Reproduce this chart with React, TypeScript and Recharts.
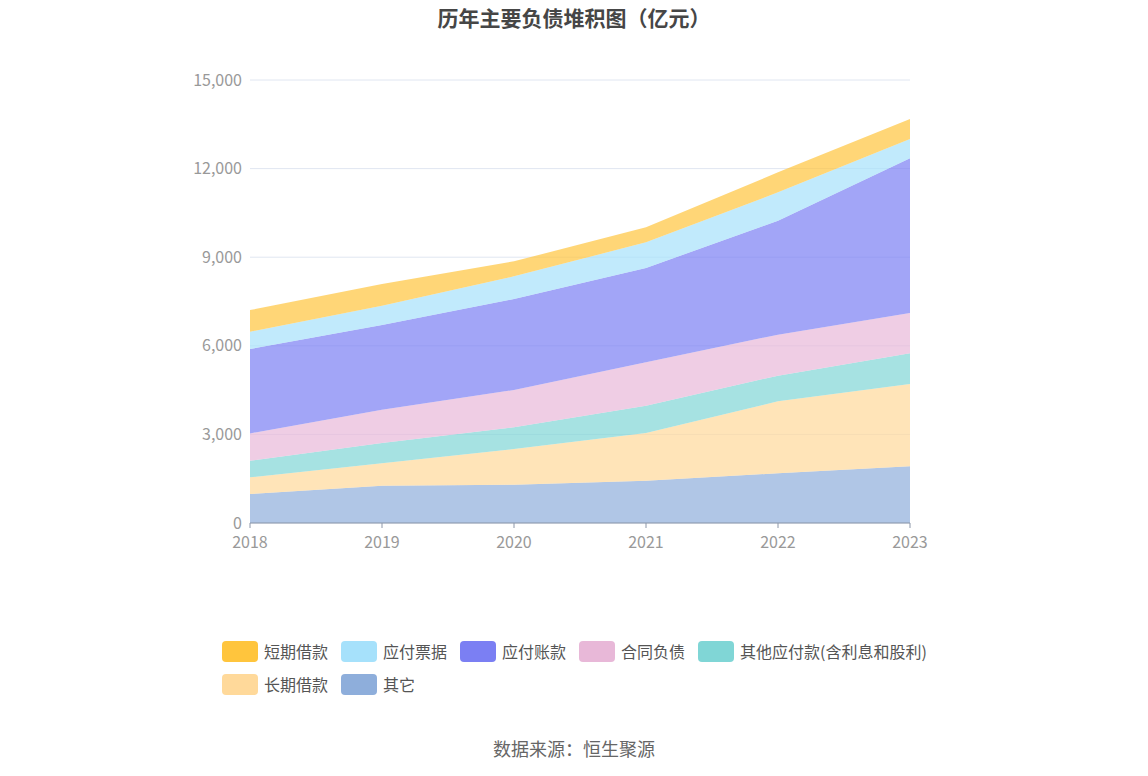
import React from 'react';
import { AreaChart, Area, XAxis, YAxis, CartesianGrid } from 'recharts';

const years = ['2018', '2019', '2020', '2021', '2022', '2023'];
// values in 亿元
const qita = [980, 1264, 1298, 1433, 1682, 1919];
const changqiJiekuan = [565, 756, 1208, 1614, 2438, 2788];
const qitaYingfu = [563, 689, 733, 926, 869, 1038];
const hetongFuzhai = [926, 1128, 1264, 1467, 1388, 1366];
const yingfuZhangkuan = [2856, 2867, 3082, 3194, 3860, 5237];
const yingfuPiaoju = [586, 655, 767, 869, 959, 655];
const duanqiJiekuan = [734, 734, 508, 508, 678, 677];
const yTicks = [0, 3000, 6000, 9000, 12000, 15000];

const data = years.map((year, i) => ({
  year,
  qita: qita[i],
  changqi: changqiJiekuan[i],
  qitaYingfu: qitaYingfu[i],
  hetong: hetongFuzhai[i],
  zhangkuan: yingfuZhangkuan[i],
  piaoju: yingfuPiaoju[i],
  duanqi: duanqiJiekuan[i],
}));

// bottom to top
const series = [
  { key: 'qita', name: '其它', color: '#8eaedb' },
  { key: 'changqi', name: '长期借款', color: '#ffd99a' },
  { key: 'qitaYingfu', name: '其他应付款(含利息和股利)', color: '#80d6d6' },
  { key: 'hetong', name: '合同负债', color: '#e8b8d8' },
  { key: 'zhangkuan', name: '应付账款', color: '#7b7ff3' },
  { key: 'piaoju', name: '应付票据', color: '#a6e1fb' },
  { key: 'duanqi', name: '短期借款', color: '#ffc53d' },
];

const legendOrder = ['duanqi', 'piaoju', 'zhangkuan', 'hetong', 'qitaYingfu', 'changqi', 'qita'];

const font = '"Noto Sans CJK SC", "Noto Sans", sans-serif';

export default function App() {
  const legendItems = legendOrder.map((k) => series.find((s) => s.key === k)!);
  return (
    <div style={{ position: 'relative', width: 1148, height: 776, fontFamily: font, background: '#fff', margin: -8 }}>
      <div
        style={{
          position: 'absolute',
          top: 2,
          left: 0,
          width: 1148,
          textAlign: 'center',
          fontSize: 21,
          fontWeight: 'bold',
          color: '#464646',
        }}
      >
        历年主要负债堆积图（亿元）
      </div>
      <div style={{ position: 'absolute', top: 0, left: 0 }}>
        <AreaChart width={1148} height={560} data={data} margin={{ top: 80, right: 238, left: 0, bottom: 7 }}>
          <CartesianGrid vertical={false} stroke="#e0e6f1" />
          <XAxis
            dataKey="year"
            height={30}
            stroke="#8c96a8"
            tick={{ fill: '#999', fontSize: 16, fontFamily: font }}
            tickLine={{ stroke: '#8c96a8' }}
            tickSize={5}
            tickMargin={9}
          />
          <YAxis
            width={250}
            domain={[0, 15000]}
            ticks={yTicks}
            axisLine={false}
            tickLine={false}
            tick={{ fill: '#999', fontSize: 16, fontFamily: font }}
            tickFormatter={(v: number) => v.toLocaleString('en-US')}
          />
          {series.map((s) => (
            <Area
              key={s.key}
              type="linear"
              dataKey={s.key}
              name={s.name}
              stackId="1"
              stroke="none"
              fill={s.color}
              fillOpacity={0.7}
              isAnimationActive={false}
            />
          ))}
        </AreaChart>
      </div>
      <div style={{ position: 'absolute', top: 640, left: 222, width: 740, display: 'flex', flexWrap: 'wrap', rowGap: 11 }}>
        {legendItems.map((s) => (
          <div key={s.key} style={{ display: 'flex', alignItems: 'center', marginRight: 13, height: 22 }}>
            <div style={{ width: 36, height: 21, borderRadius: 4, background: s.color, marginRight: 6 }} />
            <span style={{ fontSize: 16, color: '#555', whiteSpace: 'nowrap' }}>{s.name}</span>
          </div>
        ))}
      </div>
      <div style={{ position: 'absolute', top: 735, left: 0, width: 1148, textAlign: 'center', fontSize: 18, color: '#666' }}>
        数据来源：恒生聚源
      </div>
    </div>
  );
}
